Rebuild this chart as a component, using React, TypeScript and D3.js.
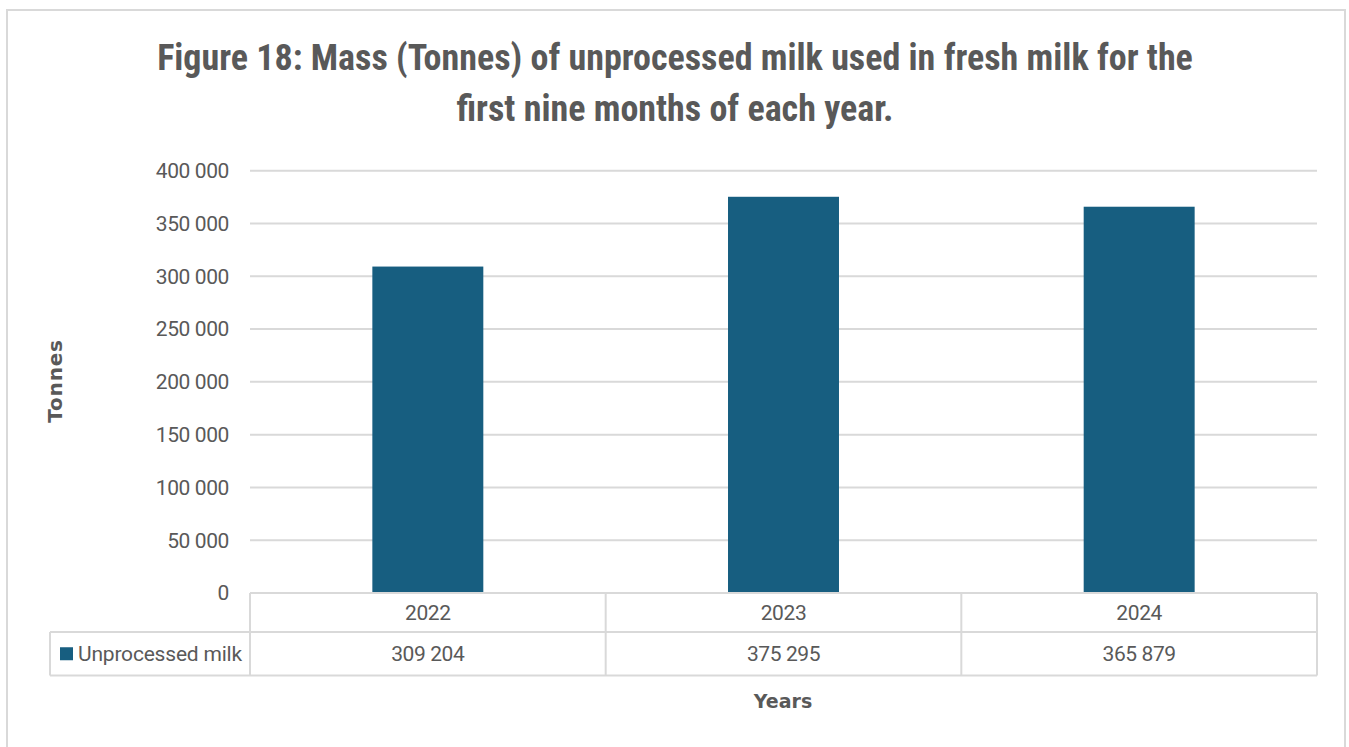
import React, { useEffect, useRef } from "react";
import * as d3 from "d3";

const categories = ["2022", "2023", "2024"];
const values = [309204, 375295, 365879];
const valueLabels = ["309 204", "375 295", "365 879"];
const yTicks = [0, 50000, 100000, 150000, 200000, 250000, 300000, 350000, 400000];
const seriesName = "Unprocessed milk";
const titleLines = [
  "Figure 18: Mass (Tonnes) of unprocessed milk used in fresh milk for the",
  "first nine months of each year.",
];

export default function App() {
  const ref = useRef<SVGSVGElement>(null);
  useEffect(() => {
    const svg = d3.select(ref.current);
    svg.selectAll("*").remove();
    const left = 250, right = 1317, top = 170.7, bottom = 593;
    const rowH1 = 39, rowH2 = 43.5;
    const legendLeft = 50;
    const textColor = "#595959";
    const gridColor = "#d9d9d9";
    const barColor = "#175E80";
    const font = "Roboto, 'Noto Sans', sans-serif";
    const boldFont = "'DejaVu Sans', Roboto, sans-serif";
    const titleFont = "'Liberation Sans Narrow', 'Roboto Condensed', 'Arial Narrow', Roboto, sans-serif";
    const fs = 21;
    const ls = -0.4;

    svg.append("rect").attr("x", 7).attr("y", 10).attr("width", 1338).attr("height", 760)
      .attr("fill", "#fff").attr("stroke", gridColor).attr("stroke-width", 2);

    const x = d3.scaleBand().domain(categories).range([left, right]).paddingInner(0).paddingOuter(0);
    const y = d3.scaleLinear().domain([0, 400000]).range([bottom, top]);
    const barW = x.bandwidth() * 0.312;

    // title
    svg.append("g").selectAll("text").data(titleLines).join("text")
      .attr("x", 675).attr("y", (_, i) => 70 + i * 51)
      .attr("text-anchor", "middle").attr("font-family", titleFont)
      .attr("font-weight", "bold").attr("font-size", 36).attr("fill", textColor)
      .text(d => d);

    // gridlines
    svg.append("g").selectAll("line").data(yTicks.filter(t => t > 0)).join("line")
      .attr("x1", left).attr("x2", right).attr("y1", d => y(d)).attr("y2", d => y(d))
      .attr("stroke", gridColor).attr("stroke-width", 2);

    // y tick labels
    const fmt = (v: number) => d3.format(",")(v).replace(/,/g, " ");
    svg.append("g").selectAll("text").data(yTicks).join("text")
      .attr("x", 229).attr("y", d => y(d)).attr("dy", "0.35em")
      .attr("text-anchor", "end").attr("font-family", font).attr("font-size", fs)
      .attr("fill", textColor).attr("letter-spacing", ls).text(d => fmt(d));

    // bars
    svg.append("g").selectAll("rect").data(values).join("rect")
      .attr("x", (_, i) => x(categories[i])! + x.bandwidth() / 2 - barW / 2)
      .attr("y", d => y(d)).attr("width", barW).attr("height", d => bottom - y(d))
      .attr("fill", barColor);

    // data table
    const g = svg.append("g").attr("stroke", gridColor).attr("stroke-width", 2).attr("fill", "none");
    const r1 = bottom + rowH1, r2 = r1 + rowH2;
    g.append("line").attr("x1", left).attr("x2", right).attr("y1", bottom).attr("y2", bottom);
    g.append("line").attr("x1", legendLeft).attr("x2", right).attr("y1", r1).attr("y2", r1);
    g.append("line").attr("x1", legendLeft).attr("x2", right).attr("y1", r2).attr("y2", r2);
    g.append("line").attr("x1", legendLeft).attr("x2", legendLeft).attr("y1", r1).attr("y2", r2);
    const cols = [left, ...categories.map(c => x(c)! + x.bandwidth())];
    g.selectAll("line.v").data(cols).join("line").attr("class", "v")
      .attr("x1", d => d).attr("x2", d => d).attr("y1", bottom).attr("y2", r2);

    svg.append("g").selectAll("text").data(categories).join("text")
      .attr("x", d => x(d)! + x.bandwidth() / 2).attr("y", bottom + rowH1 / 2).attr("dy", "0.35em")
      .attr("text-anchor", "middle").attr("font-family", font).attr("font-size", fs)
      .attr("fill", textColor).attr("letter-spacing", ls).text(d => d);
    svg.append("g").selectAll("text").data(valueLabels).join("text")
      .attr("x", (_, i) => x(categories[i])! + x.bandwidth() / 2).attr("y", r1 + rowH2 / 2).attr("dy", "0.35em")
      .attr("text-anchor", "middle").attr("font-family", font).attr("font-size", fs)
      .attr("fill", textColor).attr("letter-spacing", ls).text(d => d);

    svg.append("rect").attr("x", 60).attr("y", r1 + rowH2 / 2 - 6.5).attr("width", 13).attr("height", 13).attr("fill", barColor);
    svg.append("text").attr("x", 78).attr("y", r1 + rowH2 / 2).attr("dy", "0.35em")
      .attr("font-family", font).attr("font-size", fs).attr("fill", textColor).attr("letter-spacing", -0.2)
      .text(seriesName);

    // axis titles
    svg.append("text").attr("transform", `translate(62,381) rotate(-90)`)
      .attr("text-anchor", "middle").attr("font-family", boldFont).attr("font-weight", "bold")
      .attr("font-size", 20).attr("letter-spacing", 0.8).attr("fill", textColor).text("Tonnes");
    svg.append("text").attr("x", 783).attr("y", 708)
      .attr("text-anchor", "middle").attr("font-family", boldFont).attr("font-weight", "bold")
      .attr("font-size", 19).attr("fill", textColor).text("Years");
  }, []);
  return (
    <svg ref={ref} width={1349} height={747} style={{ position: "absolute", left: 0, top: 0, display: "block" }} />
  );
}
